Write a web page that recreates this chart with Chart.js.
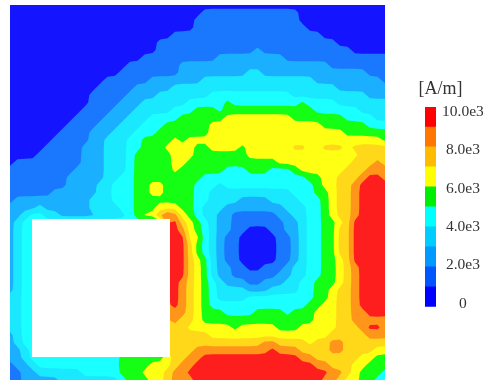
<!DOCTYPE html>
<html>
<head>
<meta charset="utf-8">
<style>
body { margin: 0; background: #fff; }
canvas { position: absolute; }
#field { left: 0; top: 0; }
#bar { left: 398px; top: 70px; }
</style>
<script src="https://cdn.jsdelivr.net/npm/chart.js@4"></script>
</head>
<body>
<canvas id="field" width="395" height="381"></canvas>
<canvas id="bar" width="85" height="252"></canvas>
<script>
// band index on a 51 x 51 grid, one string per row, "band@firstColumn"
const bandRows = [
  "0@0",
  "0@0 1@26 0@39",
  "0@0 1@25 0@39",
  "0@0 1@25 0@40",
  "0@0 1@22 0@42",
  "0@0 1@20 0@44",
  "0@0 1@20 2@33 1@34 0@46",
  "0@0 1@18 2@28 1@37",
  "0@0 1@16 2@23 1@43",
  "0@0 1@15 2@23 3@32 2@34 1@48",
  "0@0 1@13 2@19 3@26 2@41 1@50",
  "0@0 1@12 2@17 3@22 2@44",
  "0@0 1@11 2@16 3@20 4@27 3@38 2@48",
  "0@0 1@11 2@15 3@18 4@24 5@29 4@30 5@39 4@40 3@44",
  "0@0 1@10 2@14 3@17 4@22 5@25 4@28 5@29 4@41 3@47",
  "0@0 1@9 2@13 3@16 4@19 5@23 6@29 5@38 4@45 3@49",
  "0@0 1@8 2@12 3@15 4@18 5@21 6@27 5@42 4@48",
  "0@0 1@7 2@11 3@14 4@17 5@20 6@27 5@45",
  "0@0 1@6 2@11 3@13 4@16 5@18 6@22 5@23 6@24 5@50",
  "0@0 1@5 2@10 3@13 4@16 5@18 6@21 5@25 6@27 5@31 6@32 7@38 6@40 7@42 6@45 7@46",
  "0@0 1@4 2@10 3@13 4@16 5@17 6@22 5@25 6@32 7@47",
  "0@0 1@1 2@10 3@13 4@16 5@17 6@22 5@24 6@36 7@46 8@49 7@50",
  "1@0 2@9 3@13 4@16 5@17 6@22 5@23 4@29 5@32 4@35 5@38 6@39 7@45 8@48",
  "1@0 2@8 3@13 4@15 5@17 4@26 5@40 6@42 7@44 8@47 9@48 8@50",
  "1@0 2@8 3@12 4@14 5@17 6@19 5@21 4@25 3@28 4@29 5@41 6@42 7@44 8@46 9@47",
  "1@0 2@6 3@12 4@14 5@17 6@19 5@21 4@25 3@27 4@38 5@41 6@43 7@44 8@46 9@47",
  "1@0 2@1 3@11 4@14 5@17 4@25 3@27 2@31 3@35 4@39 5@42 6@43 7@44 8@46 9@47",
  "2@0 3@4 2@5 3@11 4@15 5@17 6@20 5@23 4@25 3@26 2@29 3@37 4@40 5@42 6@43 7@44 8@46 9@47",
  "2@0 3@2 4@3 3@5 2@7 3@12 4@16 5@17 6@18 8@20 9@21 8@22 6@23 5@24 4@25 3@26 2@28 1@30 2@36 3@38 4@40 5@42 6@43 7@44 8@46 9@47",
  "2@0 3@1 4@2 9@21 7@23 6@24 5@25 4@26 3@27 2@28 1@30 2@37 3@39 4@40 5@42 6@44 7@45 9@46",
  "2@0 3@1 4@2 9@21 8@23 6@24 5@25 4@26 3@27 2@28 1@30 0@32 1@35 2@37 3@39 4@40 5@42 7@44 9@46",
  "2@0 3@1 4@2 9@21 6@24 4@26 3@27 2@28 1@29 0@31 1@36 2@38 3@39 4@40 5@42 7@44 9@46",
  "2@0 3@1 4@2 9@21 7@24 5@25 4@26 3@27 2@28 1@29 0@31 1@36 2@38 3@39 4@40 5@42 7@44 9@46",
  "2@0 3@1 4@2 9@21 7@24 5@25 4@26 3@27 2@28 1@29 0@31 1@36 2@38 3@39 4@40 5@42 7@44 9@46",
  "2@0 3@1 4@2 9@21 7@24 6@25 5@26 3@27 2@28 1@29 0@31 1@36 2@38 3@39 4@40 5@42 6@44 7@45 9@46",
  "2@0 3@1 4@2 9@21 7@24 6@25 5@26 3@27 2@28 1@30 0@32 1@34 2@37 3@38 4@40 5@42 6@44 7@45 8@46 9@47",
  "2@0 3@1 4@2 9@21 7@24 6@25 5@26 3@27 2@28 1@30 2@36 3@38 4@40 5@42 6@44 7@45 8@46 9@47",
  "2@0 3@1 4@2 9@21 8@23 7@24 6@25 5@26 4@27 3@28 2@29 1@32 2@34 3@37 4@39 5@41 6@44 7@45 8@46 9@47",
  "2@0 3@1 4@2 9@21 8@23 7@24 6@25 5@26 4@27 3@28 2@32 3@35 4@39 5@41 6@43 7@44 8@46 9@47",
  "3@0 4@2 9@21 8@23 7@24 6@25 5@26 4@27 3@28 4@32 5@41 6@43 7@44 8@46 9@47",
  "3@0 4@2 9@21 8@23 7@24 6@25 5@26 4@27 5@40 6@42 7@44 8@46 9@47",
  "3@0 4@2 8@21 7@24 6@25 5@26 4@29 5@33 4@37 5@38 6@41 7@44 8@46 9@48",
  "3@0 4@2 8@21 7@23 6@25 5@26 6@41 7@44 8@46",
  "3@0 4@2 7@21 6@24 5@30 6@31 5@36 6@39 7@44 8@47 9@48 8@50",
  "2@0 3@1 4@2 7@21 6@27 7@43 8@48",
  "2@0 3@1 4@2 7@21 8@34 7@36 6@40 7@41 8@43 7@45",
  "2@0 3@2 4@3 7@21 8@25 9@35 8@36 7@39 8@43 7@45 6@49",
  "2@0 3@2 4@3 5@15 6@21 7@22 8@24 9@26 8@39 7@41 6@47 5@49",
  "1@0 2@1 3@3 4@4 5@15 6@19 7@22 8@23 9@25 8@41 7@43 6@46 5@48",
  "1@0 2@2 3@4 4@10 5@15 6@18 7@21 8@22 9@24 8@43 7@45 6@46 5@47 4@50",
  "1@0 2@2 3@7 4@15 5@16 6@19 7@21 8@22 9@25 8@42 7@44 6@45 5@47 4@49"
];
const gridSize = 50;
const holeColumns = [2.93, 21.33];
const holeRows = [28.53, 46.93];

const bandColors = ["#1414ff", "#1a78ff", "#1ab0ff", "#1ae8ff", "#1affff", "#14ff14", "#ffff14", "#ffd81a", "#ff961a", "#ff1e1e"];
const barColors = ["#0000ff", "#0055ff", "#0099ff", "#00ccff", "#00ffff", "#00ee00", "#ffff00", "#ffbb00", "#ff7700", "#ff0000"];
const barStep = 1000;
const tickValues = [0, 2000, 4000, 6000, 8000, 10000];
const tickLabels = ["0", "2.0e3", "4.0e3", "6.0e3", "8.0e3", "10.0e3"];
const unitLabel = "[A/m]";

// expand "band@column" runs to one point per grid node
const nodes = [];
bandRows.forEach(function (row, y) {
    const runs = row.split(" ").map(function (r) { return r.split("@").map(Number); });
    for (let x = 0; x <= gridSize; x++) {
        let band = 0;
        runs.forEach(function (r) { if (x >= r[1]) band = r[0]; });
        nodes.push({ x: x, y: y, v: band });
    }
});

// band at a node with a light rounding over its neighbours, so contours are not octagons
function roundedBand(pts, i, j) {
    const n = gridSize + 1;
    const w = [0.12, 0.76, 0.12];
    let sum = 0;
    for (let dj = -1; dj <= 1; dj++) {
        for (let di = -1; di <= 1; di++) {
            const ii = Math.min(gridSize, Math.max(0, i + di));
            const jj = Math.min(gridSize, Math.max(0, j + dj));
            sum += w[di + 1] * w[dj + 1] * pts[jj * n + ii].v;
        }
    }
    return sum;
}

// filled contours, one clipped polygon per grid square, lowest band first
const contourFill = {
    id: "contourFill",
    beforeDatasetsDraw: function (chart) {
        const c = chart.ctx;
        const sx = chart.scales.x;
        const sy = chart.scales.y;
        const pts = chart.data.datasets[0].data;
        const n = gridSize + 1;
        const area = chart.chartArea;

        const soft = pts.map(function (p) {
            return { x: p.x, y: p.y, v: roundedBand(pts, p.x, p.y) };
        });

        c.save();
        c.beginPath();
        c.rect(area.left, area.top, area.width, area.height);
        c.clip();

        c.fillStyle = bandColors[0];
        c.fillRect(area.left, area.top, area.width, area.height);

        for (let k = 1; k < bandColors.length; k++) {
            const level = k - 0.5;
            c.beginPath();
            for (let j = 0; j < gridSize; j++) {
                for (let i = 0; i < gridSize; i++) {
                    const q = [soft[j * n + i], soft[j * n + i + 1], soft[(j + 1) * n + i + 1], soft[(j + 1) * n + i]];
                    const poly = [];
                    q.forEach(function (a, m) {
                        const b = q[(m + 1) % 4];
                        if (a.v >= level) poly.push([a.x, a.y]);
                        if ((a.v >= level) !== (b.v >= level)) {
                            const t = (level - a.v) / (b.v - a.v);
                            poly.push([a.x + (b.x - a.x) * t, a.y + (b.y - a.y) * t]);
                        }
                    });
                    poly.forEach(function (p, m) {
                        const px = sx.getPixelForValue(p[0]);
                        const py = sy.getPixelForValue(p[1]);
                        if (m === 0) c.moveTo(px, py); else c.lineTo(px, py);
                    });
                    if (poly.length) c.closePath();
                }
            }
            c.fillStyle = bandColors[k];
            c.fill();
        }

        // the conductor has no field in it
        const left = sx.getPixelForValue(holeColumns[0]);
        const top = sy.getPixelForValue(holeRows[0]);
        c.fillStyle = "#ffffff";
        c.fillRect(left, top, sx.getPixelForValue(holeColumns[1]) - left, sy.getPixelForValue(holeRows[1]) - top);
        c.restore();
    }
};

new Chart(document.getElementById("field"), {
    type: "scatter",
    data: { datasets: [{ data: nodes, pointRadius: 0 }] },
    plugins: [contourFill],
    options: {
        responsive: false,
        animation: false,
        layout: { padding: { left: 10, top: 5, right: 10, bottom: 1 } },
        plugins: { legend: { display: false }, tooltip: { enabled: false } },
        scales: {
            x: { type: "linear", min: 0, max: gridSize, display: false },
            y: { type: "linear", min: 0, max: gridSize, reverse: true, display: false }
        }
    }
});

new Chart(document.getElementById("bar"), {
    type: "bar",
    data: {
        labels: [""],
        datasets: barColors.map(function (col) {
            return { data: [barStep], backgroundColor: col, barPercentage: 1, categoryPercentage: 1 };
        })
    },
    options: {
        responsive: false,
        animation: false,
        layout: { padding: { left: 0, top: 0, right: 0, bottom: 9 } },
        plugins: {
            legend: { display: false },
            tooltip: { enabled: false },
            title: {
                display: true,
                text: unitLabel,
                color: "#333333",
                font: { family: "Liberation Serif", size: 18, weight: "normal" },
                padding: { top: 8, bottom: 7.4 }
            }
        },
        scales: {
            x: { stacked: true, display: false },
            y: { stacked: true, min: 0, max: barStep * barColors.length, display: false },
            // empty axis only to hold the bar away from the left edge, the title stays centred on the canvas
            yGap: {
                axis: "y",
                type: "linear",
                position: "left",
                afterFit: function (s) { s.width = 27; },
                grid: { display: false, drawTicks: false },
                border: { display: false },
                ticks: { display: false }
            },
            yTicks: {
                axis: "y",
                type: "linear",
                position: "right",
                min: -156,
                max: 10260,
                afterBuildTicks: function (s) {
                    s.ticks = tickValues.map(function (v) { return { value: v }; });
                },
                afterFit: function (s) { s.width = 47; },
                grid: { display: false, drawTicks: false },
                border: { display: false },
                ticks: {
                    color: "#333333",
                    font: { family: "Liberation Serif", size: 15.5 },
                    padding: 6,
                    crossAlign: "center",
                    autoSkip: false,
                    callback: function (v) { return tickLabels[tickValues.indexOf(v)]; }
                }
            }
        }
    }
});
</script>
</body>
</html>
